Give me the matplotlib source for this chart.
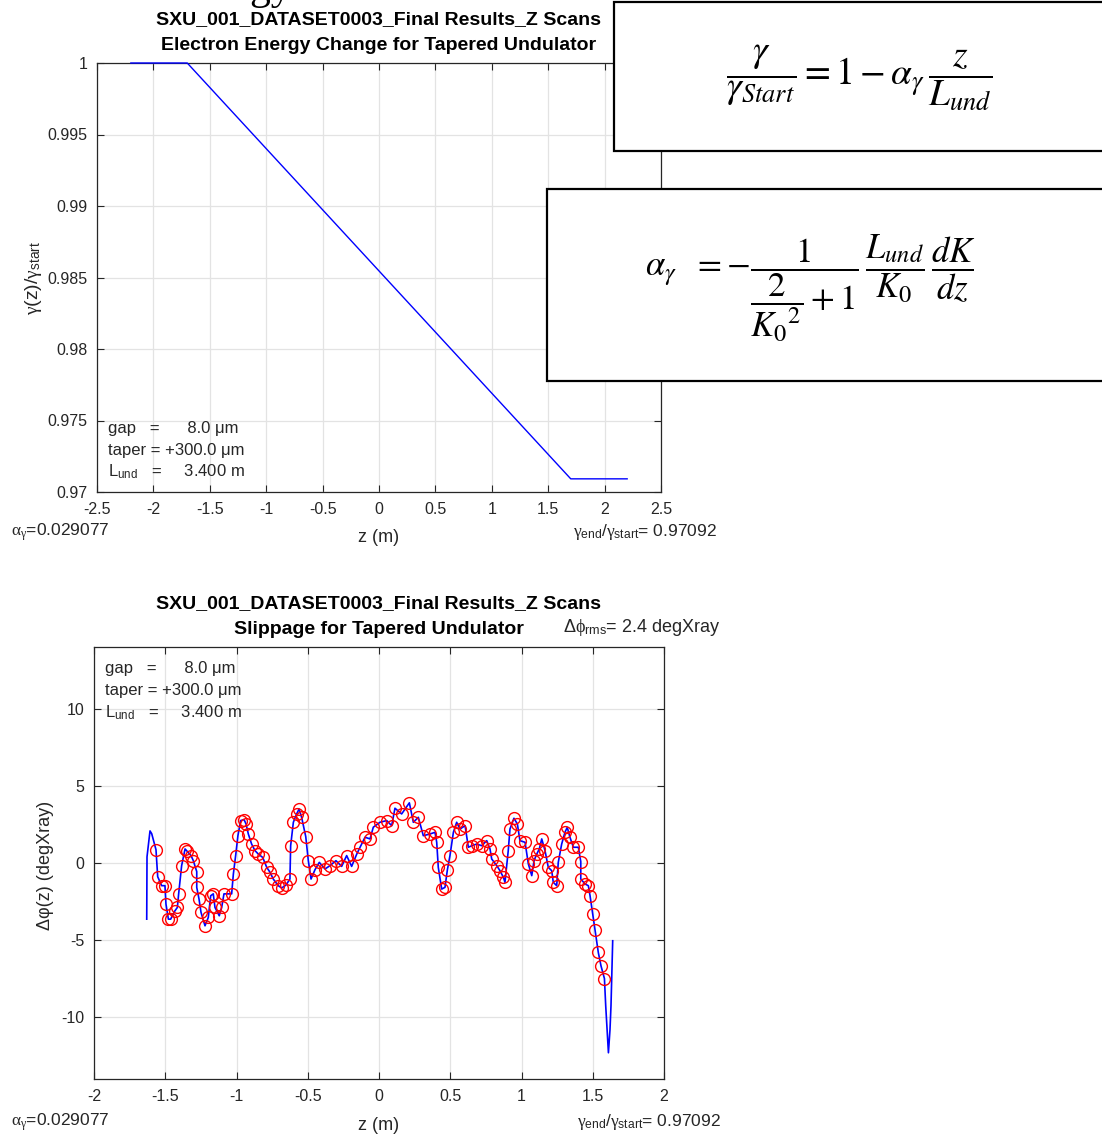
import numpy as np
import matplotlib.pyplot as plt
from matplotlib.patches import Rectangle

plt.rcParams['font.family'] = ['Liberation Sans', 'DejaVu Sans']
plt.rcParams['mathtext.fontset'] = 'custom'
plt.rcParams['mathtext.rm'] = 'Liberation Sans'
plt.rcParams['mathtext.it'] = 'Liberation Serif'
plt.rcParams['mathtext.bf'] = 'Liberation Sans:bold'

# ---- data: electron energy change (top panel)
z_gamma = [-2.2, -1.7, 1.7, 2.2]
gamma_ratio = [1.0, 1.0, 0.97092, 0.97092]

# ---- data: slippage (bottom panel), circles
z_pts = [-1.565, -1.553, -1.525, -1.502, -1.495, -1.478, -1.462, -1.432, -1.415, -1.406,
         -1.385, -1.361, -1.35, -1.319, -1.303, -1.279, -1.279, -1.263, -1.249, -1.221,
         -1.198, -1.181, -1.163, -1.151, -1.121, -1.104, -1.088, -1.034, -1.022, -1.006,
         -0.99, -0.971, -0.947, -0.933, -0.917, -0.894, -0.87, -0.847, -0.816, -0.788,
         -0.765, -0.742, -0.707, -0.683, -0.653, -0.625, -0.62, -0.601, -0.578, -0.561,
         -0.543, -0.514, -0.496, -0.477, -0.449, -0.419, -0.379, -0.344, -0.302, -0.262,
         -0.227, -0.192, -0.156, -0.133, -0.098, -0.063, -0.04, 0.007, 0.054, 0.089,
         0.112, 0.159, 0.213, 0.241, 0.276, 0.311, 0.358, 0.393, 0.405, 0.416,
         0.44, 0.463, 0.48, 0.498, 0.522, 0.545, 0.568, 0.604, 0.627, 0.651,
         0.686, 0.721, 0.756, 0.779, 0.791, 0.826, 0.849, 0.873, 0.884, 0.907,
         0.919, 0.947, 0.971, 0.989, 1.025, 1.048, 1.072, 1.088, 1.107, 1.125,
         1.142, 1.165, 1.188, 1.212, 1.223, 1.247, 1.258, 1.282, 1.305, 1.321,
         1.34, 1.364, 1.399, 1.416, 1.416, 1.446, 1.469, 1.481, 1.5, 1.516,
         1.539, 1.558, 1.582]
dphi_pts = [0.86, -0.89, -1.47, -1.47, -2.66, -3.64, -3.64, -3.1, -2.88, -2.0,
            -0.17, 0.91, 0.8, 0.48, 0.15, -0.56, -1.58, -2.34, -3.2, -4.07,
            -3.53, -2.12, -2.0, -2.88, -3.42, -2.88, -2.0, -2.0, -0.71, 0.48,
            1.77, 2.75, 2.81, 2.53, 1.88, 1.23, 0.8, 0.58, 0.36, -0.28,
            -0.6, -1.04, -1.47, -1.62, -1.43, -1.04, 1.12, 2.64, 3.18, 3.5,
            2.96, 1.71, 0.15, -1.04, -0.43, 0.04, -0.39, -0.17, 0.15, -0.22,
            0.48, -0.22, 0.58, 1.02, 1.67, 1.56, 2.32, 2.64, 2.75, 2.42,
            3.55, 3.18, 3.9, 2.64, 2.96, 1.77, 1.88, 1.99, 1.34, -0.28,
            -1.69, -1.58, -0.43, 0.48, 1.99, 2.64, 2.2, 2.42, 1.02, 1.12,
            1.23, 1.12, 1.45, 0.91, 0.26, -0.17, -0.5, -0.93, -1.25, 0.8,
            2.2, 2.9, 2.53, 1.45, 1.34, -0.06, -0.82, 0.15, 0.58, 0.91,
            1.56, 0.8, -0.28, -0.5, -1.25, -1.47, 0.04, 1.23, 1.99, 2.31,
            1.67, 1.02, 1.02, 0.09, -1.04, -1.36, -1.47, -2.12, -3.31, -4.33,
            -5.8, -6.67, -7.49]
# extra points of the continuous line at both ends
z_head = [-1.63, -1.628, -1.607, -1.595]
dphi_head = [-3.64, 0.4, 2.08, 1.9]
z_tail = [1.591, 1.61, 1.621, 1.628, 1.64]
dphi_tail = [-9.26, -12.3, -10.8, -9.26, -5.04]

top_xticks = [-2.5, -2, -1.5, -1, -0.5, 0, 0.5, 1, 1.5, 2, 2.5]
top_xlabels = ['-2.5', '-2', '-1.5', '-1', '-0.5', '0', '0.5', '1', '1.5', '2', '2.5']
top_yticks = [0.97, 0.975, 0.98, 0.985, 0.99, 0.995, 1.0]
top_ylabels = ['0.97', '0.975', '0.98', '0.985', '0.99', '0.995', '1']
bot_xticks = [-2, -1.5, -1, -0.5, 0, 0.5, 1, 1.5, 2]
bot_xlabels = ['-2', '-1.5', '-1', '-0.5', '0', '0.5', '1', '1.5', '2']
bot_yticks = [-10, -5, 0, 5, 10]
bot_ylabels = ['-10', '-5', '0', '5', '10']

W, H = 1102, 1137
fig = plt.figure(figsize=(W / 100, H / 100), dpi=100)
tc = '#262626'


def matlab_axes(ax):
    ax.tick_params(direction='in', top=True, right=True, length=5, width=0.8,
                   colors=tc, labelsize=11.5, pad=7)
    ax.grid(True, color='#e3e3e3', lw=0.9)
    ax.set_axisbelow(True)
    for s in ax.spines.values():
        s.set_color(tc)
        s.set_linewidth(0.9)


def info_text(ax, y0, dy):
    lines = ['gap   =      8.0 \u03bcm', 'taper = +300.0 \u03bcm',
             r'L$_{\rm und}$   =     3.400 m']
    for i, s in enumerate(lines):
        ax.text(0.019, y0 - i * dy, s, transform=ax.transAxes, fontsize=12,
                color=tc, va='center')


# top panel
ax1 = fig.add_axes([97 / W, 1 - 492 / H, 564 / W, 429 / H])
ax1.plot(z_gamma, gamma_ratio, color='#0000ff', lw=1.0, clip_on=False, zorder=4)
ax1.set_xlim(-2.5, 2.5)
ax1.set_ylim(0.97, 1.0)
ax1.set_xticks(top_xticks, top_xlabels)
ax1.set_yticks(top_yticks, top_ylabels)
matlab_axes(ax1)
info_text(ax1, (492 - 428) / 429, 22 / 429)

# bottom panel
ax2 = fig.add_axes([94 / W, 1 - 1079 / H, 570 / W, 432 / H])
z_line = np.concatenate([z_head, z_pts, z_tail])
dphi_line = np.concatenate([dphi_head, dphi_pts, dphi_tail])
ax2.plot(z_line, dphi_line, color='#0000ff', lw=1.2)
ax2.plot(z_pts, dphi_pts, 'o', mfc='none', mec='#ff0000', ms=8.5, mew=1.0)
ax2.set_xlim(-2, 2)
ax2.set_ylim(-14, 14)
ax2.set_xticks(bot_xticks, bot_xlabels)
ax2.set_yticks(bot_yticks, bot_ylabels)
matlab_axes(ax2)
info_text(ax2, (1079 - 669) / 432, 22 / 432)

# titles and labels
for y, s in [(20, 'SXU_001_DATASET0003_Final Results_Z Scans'),
             (46, 'Electron Energy Change for Tapered Undulator'),
             (604, 'SXU_001_DATASET0003_Final Results_Z Scans'),
             (630, 'Slippage for Tapered Undulator')]:
    fig.text(379 / W, 1 - y / H, s, fontsize=14, fontweight='bold', color='black',
             ha='center', va='center')

fig.text(563 / W, 1 - 628 / H, r'$\Delta\phi_{\rm rms}$= 2.4 degXray',
         fontsize=13, color=tc, va='center')

for y, yx, xr in [(532, 537, 717), (1122, 1126, 721)]:
    fig.text(11 / W, 1 - y / H, r'$\alpha_\gamma$=0.029077', fontsize=12.5, color=tc,
             va='center')
    fig.text(379 / W, 1 - yx / H, 'z (m)', fontsize=13, color=tc, ha='center', va='center')
    fig.text(xr / W, 1 - y / H, r'$\gamma_{\rm end}$/$\gamma_{\rm start}$= 0.97092',
             fontsize=12.5, color=tc, ha='right', va='center')

fig.text(33 / W, 1 - 278 / H, r'$\gamma$(z)/$\gamma_{\rm start}$', fontsize=14,
         color=tc, rotation=90, ha='center', va='center')
fig.text(45 / W, 1 - 865 / H, '\u0394\u03c6(z) (degXray)', fontsize=13,
         color=tc, rotation=90, ha='center', va='center')

# slide title remnant cut at the top edge
fig.text(292 / W, 1 + 1 / H, 'Energy', family='Liberation Serif', fontsize=30,
         ha='right', va='baseline', color='black')

# equation boxes
box1 = Rectangle((614 / W, 1 - 151 / H), 0.6, 149 / H, transform=fig.transFigure,
                 facecolor='white', edgecolor='black', lw=1.6, zorder=5)
box2 = Rectangle((547 / W, 1 - 381 / H), 0.6, 192 / H, transform=fig.transFigure,
                 facecolor='white', edgecolor='black', lw=1.6, zorder=5)
fig.add_artist(box1)
fig.add_artist(box2)

fig.text(859 / W, 1 - 78 / H,
         r'$\dfrac{\gamma}{\gamma_{Start}} = 1 - \alpha_\gamma\,\dfrac{z}{L_{und}}$',
         fontsize=27, ha='center', va='center', math_fontfamily='stix', zorder=6)
fig.text(645 / W, 1 - 288 / H,
         r'$\alpha_\gamma\ \ = -\dfrac{1}{\dfrac{2}{{K_0}^{2}}+1}\,\dfrac{L_{und}}{K_0}\,\dfrac{dK}{dz}$',
         fontsize=25, ha='left', va='center', math_fontfamily='stix', zorder=6)

fig.savefig('out.png', dpi=100)
